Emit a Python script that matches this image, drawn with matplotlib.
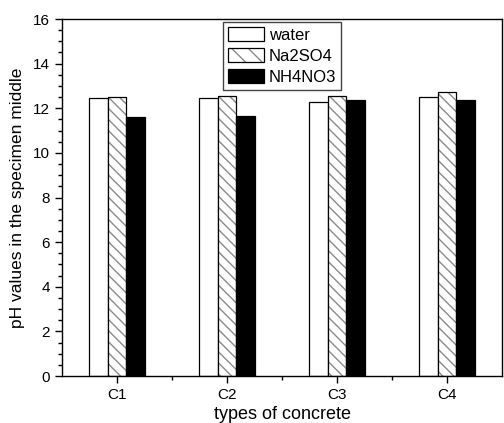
import numpy as np
import matplotlib
matplotlib.use("Agg")
import matplotlib.pyplot as plt
from matplotlib.patches import Patch
from matplotlib.ticker import MultipleLocator, FixedLocator

plt.rcParams["font.family"] = ["Liberation Sans", "DejaVu Sans"]

# Data
categories = ["C1", "C2", "C3", "C4"]
water = [12.44, 12.48, 12.26, 12.51]
na2so4 = [12.50, 12.53, 12.57, 12.74]
nh4no3 = [11.62, 11.64, 12.38, 12.35]

x = np.arange(1, len(categories) + 1)
w = 0.168

fig = plt.figure(figsize=(5.04, 4.23), dpi=100)
ax = fig.add_axes([62 / 504, 1 - 376 / 423, 440 / 504, 357 / 423])

ax.bar(x - w, water, w, color="white", edgecolor="black", linewidth=0.9)
ax.bar(x, na2so4, w, color="white", edgecolor="#8a8a8a", hatch="\\\\\\", linewidth=0)
ax.bar(x, na2so4, w, color="none", edgecolor="black", linewidth=0.9)
ax.bar(x + w, nh4no3, w, color="black", edgecolor="black", linewidth=0.9)

ax.set_xlim(0.5, 4.5)
ax.set_ylim(0, 16)
ax.set_xticks(x)
ax.set_xticklabels(categories)
ax.xaxis.set_minor_locator(FixedLocator([1.5, 2.5, 3.5]))
ax.yaxis.set_major_locator(MultipleLocator(2))
ax.yaxis.set_minor_locator(MultipleLocator(0.5))
ax.tick_params(which="both", direction="out", top=False, right=False, labelsize=11)
ax.tick_params(which="major", length=5, width=1)
ax.tick_params(which="minor", length=3, width=1)
for s in ax.spines.values():
    s.set_linewidth(1)

ax.set_xlabel("types of concrete", fontsize=13, labelpad=3)
ax.set_ylabel("pH values in the specimen middle", fontsize=12.5, labelpad=6)

h_water = Patch(facecolor="white", edgecolor="black", linewidth=0.9)
h_hatch = (Patch(facecolor="white", edgecolor="#8a8a8a", hatch="\\\\", linewidth=0),
           Patch(facecolor="none", edgecolor="black", linewidth=0.9))
h_black = Patch(facecolor="black", edgecolor="black", linewidth=0.9)
leg = ax.legend([h_water, h_hatch, h_black], ["water", "Na2SO4", "NH4NO3"],
                loc="upper center", fontsize=12, fancybox=False, edgecolor="#444444",
                handlelength=2.15, handleheight=0.9, labelspacing=0.32,
                borderpad=0.3, handletextpad=0.3, borderaxespad=0.2,
                framealpha=1.0)
leg.get_frame().set_linewidth(1)

fig.savefig("out.png", dpi=100, facecolor="white")
